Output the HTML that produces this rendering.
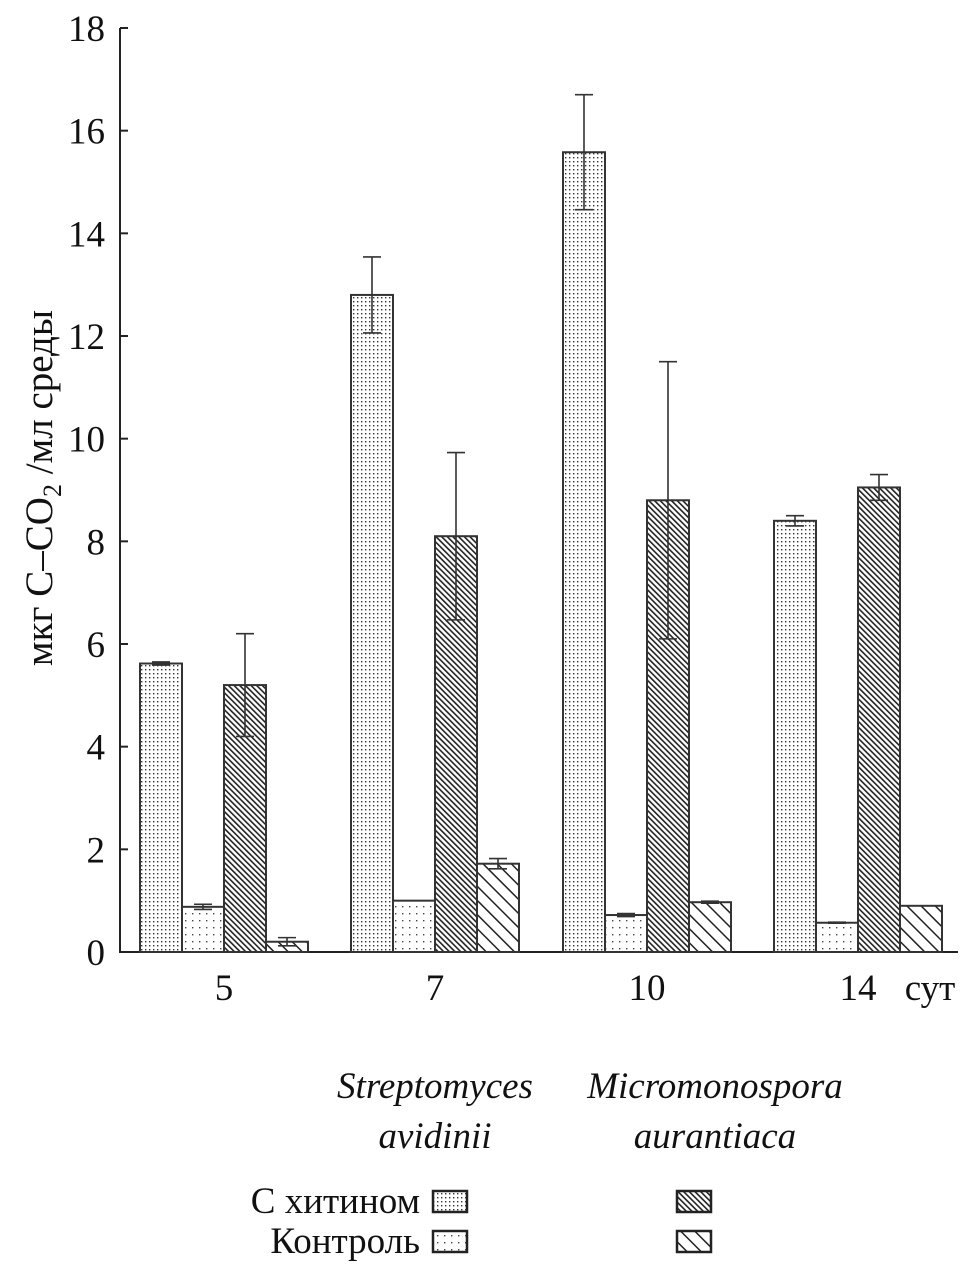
<!DOCTYPE html>
<html><head><meta charset="utf-8"><style>
html,body{margin:0;padding:0;background:#fff;}
svg{display:block;font-family:"Liberation Serif",serif;}
</style></head><body>
<svg id="chart" width="974" height="1277" viewBox="0 0 974 1277" xmlns="http://www.w3.org/2000/svg">
<defs>
<pattern id="pDense" width="4" height="4" patternUnits="userSpaceOnUse"><rect width="4" height="4" fill="#fff"/><rect x="1" y="1" width="1.4" height="1.4" fill="#333"/></pattern>
<pattern id="pSparse" width="7" height="7" patternUnits="userSpaceOnUse"><rect width="7" height="7" fill="#fff"/><rect x="3" y="3" width="1.4" height="1.4" fill="#444"/></pattern>
<pattern id="hDense" width="4" height="4" patternUnits="userSpaceOnUse" patternTransform="rotate(-45)"><rect width="4" height="4" fill="#fff"/><rect x="0" y="0" width="1.6" height="4" fill="#222"/></pattern>
<pattern id="hSparse" width="10" height="10" patternUnits="userSpaceOnUse" patternTransform="rotate(-45)"><rect width="10" height="10" fill="#fff"/><rect x="0" y="0" width="1.5" height="10" fill="#222"/></pattern>
</defs>
<g id="axes"></g>
<g id="bars"></g>
<text transform="translate(52,488) rotate(-90)" text-anchor="middle" font-size="39" fill="#111">мкг C–CO<tspan font-size="26" dy="9">2</tspan><tspan dy="-9"> /мл среды</tspan></text>
<text x="930" y="1000" text-anchor="middle" font-size="37" fill="#111">сут</text>
<text x="435" y="1098" text-anchor="middle" font-size="37" font-style="italic" fill="#111">Streptomyces</text>
<text x="435" y="1148" text-anchor="middle" font-size="37" font-style="italic" fill="#111">avidinii</text>
<text x="715" y="1098" text-anchor="middle" font-size="37" font-style="italic" fill="#111">Micromonospora</text>
<text x="715" y="1148" text-anchor="middle" font-size="37" font-style="italic" fill="#111">aurantiaca</text>
<text x="420" y="1213" text-anchor="end" font-size="37" fill="#111">С хитином</text>
<text x="420" y="1253" text-anchor="end" font-size="37" fill="#111">Контроль</text>
<rect x="433" y="1191" width="34" height="21" fill="url(#pDense)" stroke="#222" stroke-width="2.5"/>
<rect x="433" y="1231" width="34" height="21" fill="url(#pSparse)" stroke="#222" stroke-width="2.5"/>
<rect x="677" y="1191" width="34" height="21" fill="url(#hDense)" stroke="#222" stroke-width="2.5"/>
<rect x="677" y="1231" width="34" height="21" fill="url(#hSparse)" stroke="#222" stroke-width="2.5"/>
</svg>
<script>
const days = ["5", "7", "10", "14"];
const strepChitin = [5.62, 12.8, 15.58, 8.4];
const strepChitinErr = [0.03, 0.74, 1.12, 0.1];
const strepControl = [0.88, 1.0, 0.72, 0.57];
const strepControlErr = [0.05, 0, 0.03, 0.01];
const microChitin = [5.2, 8.1, 8.8, 9.05];
const microChitinErr = [1.0, 1.63, 2.7, 0.25];
const microControl = [0.2, 1.72, 0.97, 0.9];
const microControlErr = [0.08, 0.1, 0.02, 0];
const yTicks = [0, 2, 4, 6, 8, 10, 12, 14, 16, 18];

const NS = "http://www.w3.org/2000/svg";
const y0 = 952, yTop = 28, yMax = 18;
function yScale(v){ return y0 - v*(y0-yTop)/yMax; }
const groupStart = [140, 351, 563, 774], barW = 42;
function xScale(g, s){ return groupStart[g] + s*barW; }
function mk(tag, attrs, parent){ const e=document.createElementNS(NS,tag); for(const k in attrs) e.setAttribute(k,attrs[k]); parent.appendChild(e); return e; }

const axes = document.getElementById("axes");
let yl = mk("line",{x1:120,y1:yScale(0),x2:120,y2:yScale(18),stroke:"#222","stroke-width":2},axes);


let xl = mk("line",{x1:119,y1:y0,x2:958,y2:y0,stroke:"#222","stroke-width":2},axes);


yTicks.forEach(t=>{
  const y=yScale(t);
  const tk = mk("line",{x1:120,y1:y,x2:128,y2:y,stroke:"#222","stroke-width":2},axes);
  
  
  const tx = mk("text",{x:105,y:y+13,"text-anchor":"end","font-size":37,fill:"#111"},axes);
  tx.textContent = t;
  
  
});
days.forEach((d,g)=>{
  const tx = mk("text",{x:xScale(g,2),y:1000,"text-anchor":"middle","font-size":37,fill:"#111"},axes);
  tx.textContent = d;
  
  
});

const bars = document.getElementById("bars");
const series = [
  [strepChitin, strepChitinErr, "url(#pDense)", "bar-strep-chitin"],
  [strepControl, strepControlErr, "url(#pSparse)", "bar-strep-control"],
  [microChitin, microChitinErr, "url(#hDense)", "bar-micro-chitin"],
  [microControl, microControlErr, "url(#hSparse)", "bar-micro-control"]
];
series.forEach((s,si)=>{
  s[0].forEach((v,g)=>{
    const x=xScale(g,si), y=yScale(v);
    const r = mk("rect",{x:x,y:y,width:barW,height:y0-y,fill:s[2],stroke:"#333","stroke-width":2},bars);
    
    
    const e=s[1][g];
    if(e>0){
      const cx=x+barW/2, yh=yScale(v+e), ylo=yScale(v-e);
      const eb = mk("path",{d:`M${cx},${yh}V${ylo}M${cx-9},${yh}H${cx+9}M${cx-9},${ylo}H${cx+9}`,stroke:"#333","stroke-width":1.6,fill:"none"},bars);
      
      
    }
  });
});
</script>
</body></html>
